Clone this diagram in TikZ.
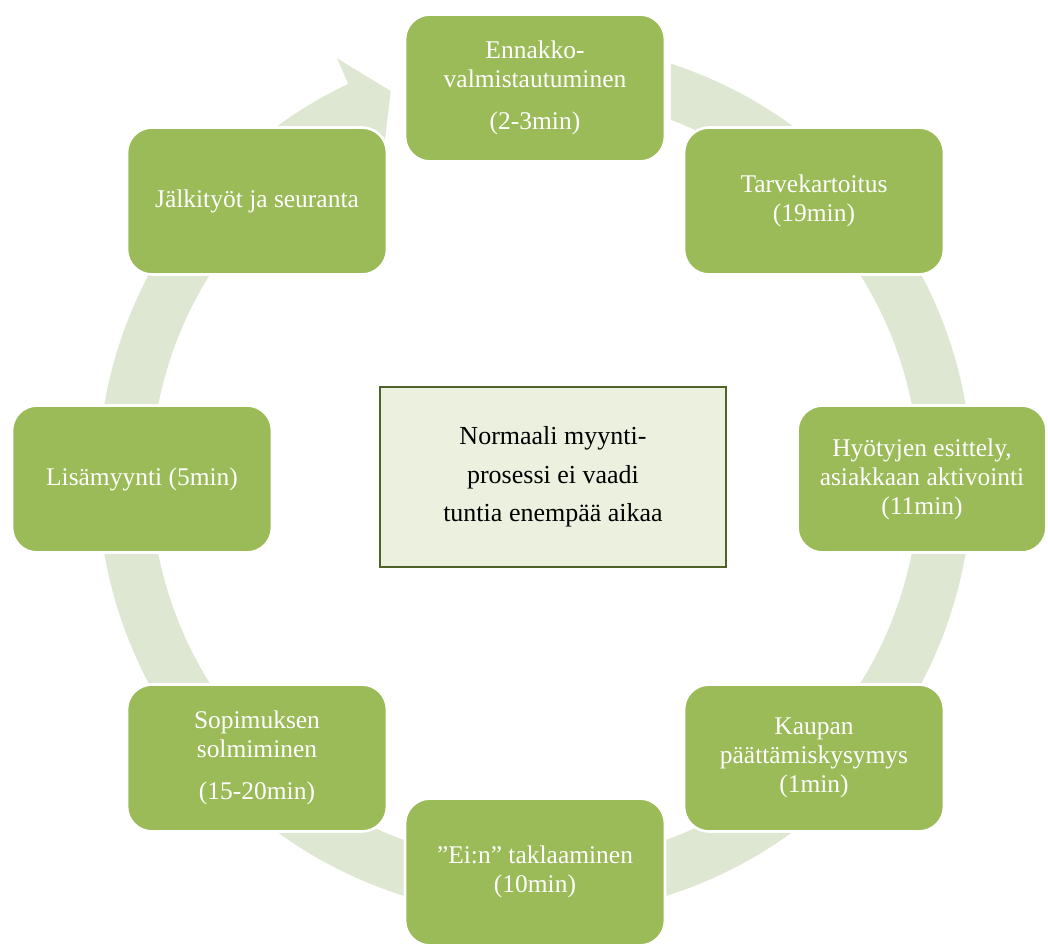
\documentclass[tikz,border=0pt]{standalone}
\usepackage{fontspec}
\setmainfont{Liberation Serif}
\usetikzlibrary{positioning}
\definecolor{stagegreen}{HTML}{9BBB59}
\definecolor{ringgreen}{HTML}{DEE7D1}
\definecolor{notefill}{HTML}{EBF1DE}
\definecolor{noteline}{HTML}{4F6228}
\tikzset{stage/.style={rectangle,rounded corners=0.5cm,fill=stagegreen,draw=white,
line width=1.5pt,text=white,align=center,minimum width=5.2cm,
minimum height=2.94cm,inner sep=2pt,font=\fontsize{14.5}{16.5}\selectfont},
note/.style={rectangle,fill=notefill,draw=noteline,line width=0.8pt,align=center,
minimum width=6.92cm,minimum height=3.6cm,font=\fontsize{14.8}{22}\selectfont}}

\begin{document}
\begin{tikzpicture}[x=0.02cm,y=0.02cm]
	\useasboundingbox (-535,-465) rectangle (513,479);

	% circular arrow behind the stages
	\fill[ringgreen] (71.9:437) arc[start angle=71.9,end angle=-244.7,radius=437]
		-- (115.2:465) -- (110.4:414) -- (115.3:356) -- (115.3:384)
		arc[start angle=-244.7,end angle=69.26,radius=384] -- cycle;

	\node[stage] (ennakko) at (0,391) {Ennakko-\\valmistautuminen\\[7pt](2-3min)};
	\node[stage] (tarve) at (279,278) {Tarvekartoitus\\(19min)};
	\node[stage,minimum width=4.98cm] (hyoty) at (387,0) {Hyötyjen esittely,\\asiakkaan aktivointi\\(11min)};
	\node[stage] (kaupan) at (279,-279) {Kaupan\\päättämiskysymys\\(1min)};
	\node[stage] (eitakla) at (0,-393) {”Ei:n” taklaaminen\\(10min)};
	\node[stage] (sopimus) at (-278,-279) {Sopimuksen\\solmiminen\\[7pt](15-20min)};
	\node[stage] (lisa) at (-393,0) {Lisämyynti (5min)};
	\node[stage] (jalki) at (-278,278) {Jälkityöt ja seuranta};

	\node[note] (keskus) at (18,2) {Normaali myynti-\\prosessi ei vaadi\\tuntia enempää aikaa};
\end{tikzpicture}
\end{document}
